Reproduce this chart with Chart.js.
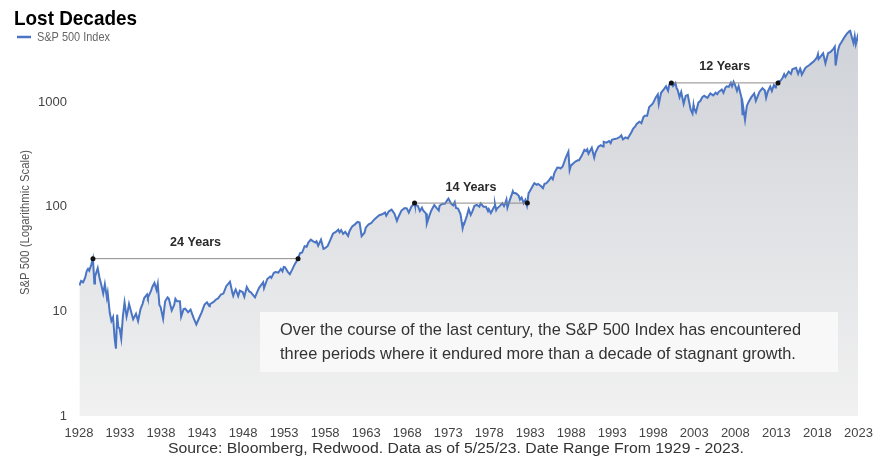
<!DOCTYPE html>
<html>
<head>
<meta charset="utf-8">
<script src="https://cdn.jsdelivr.net/npm/chart.js@4"></script>
<style>
  body { margin: 0; background: #fff; }
  #wrap { width: 875px; height: 458px; position: relative; }
</style>
</head>
<body>
<div id="wrap"><canvas id="myChart"></canvas></div>
<script>
// S&P 500 price level (decimal year -> index level)
const dates = [
  1928.05, 1928.25, 1928.5, 1928.75, 1928.95,
  1929.1, 1929.25, 1929.5, 1929.7, 1929.87, 1929.95,
  1930.28, 1930.5, 1930.75, 1930.95,
  1931.15, 1931.4, 1931.5, 1931.75, 1931.95,
  1932.15, 1932.35, 1932.5, 1932.65, 1932.8, 1932.95,
  1933.15, 1933.35, 1933.55, 1933.8, 1933.95,
  1934.1, 1934.4, 1934.6, 1934.95,
  1935.2, 1935.5, 1935.75, 1935.95,
  1936.3, 1936.4, 1936.75, 1936.95,
  1937.2, 1937.45, 1937.6, 1937.8, 1937.95,
  1938.25, 1938.5, 1938.8, 1938.95,
  1939.3, 1939.6, 1939.75, 1939.95,
  1940.3, 1940.45, 1940.75, 1940.95,
  1941.3, 1941.6, 1941.95,
  1942.3, 1942.6, 1942.95,
  1943.3, 1943.6, 1943.9, 1943.95,
  1944.4, 1944.7, 1944.95,
  1945.3, 1945.6, 1945.95,
  1946.4, 1946.7, 1946.8, 1946.95,
  1947.1, 1947.4, 1947.6, 1947.95,
  1948.15, 1948.45, 1948.75, 1948.95,
  1949.45, 1949.7, 1949.95,
  1950.45, 1950.55, 1950.95,
  1951.3, 1951.45, 1951.75, 1951.95,
  1952.3, 1952.6, 1952.8, 1952.95,
  1953.1, 1953.45, 1953.7, 1953.95,
  1954.3, 1954.55, 1954.7, 1954.95,
  1955.2, 1955.5, 1955.75, 1955.95,
  1956.25, 1956.5, 1956.8, 1956.95,
  1957.15, 1957.5, 1957.8, 1957.95,
  1958.3, 1958.6, 1958.95,
  1959.3, 1959.6, 1959.75, 1959.95,
  1960.2, 1960.45, 1960.8, 1960.95,
  1961.3, 1961.6, 1961.95,
  1962.2, 1962.45, 1962.8, 1962.95,
  1963.3, 1963.6, 1963.95,
  1964.3, 1964.6, 1964.95,
  1965.3, 1965.45, 1965.75, 1965.95,
  1966.1, 1966.45, 1966.75, 1966.95,
  1967.3, 1967.7, 1967.95,
  1968.2, 1968.5, 1968.9, 1968.95,
  1969.3, 1969.55, 1969.8, 1969.95,
  1970.3, 1970.4, 1970.75, 1970.95,
  1971.3, 1971.6, 1971.85, 1971.95,
  1972.3, 1972.6, 1972.95,
  1973.03, 1973.35, 1973.6, 1973.8, 1973.95,
  1974.2, 1974.5, 1974.76, 1974.9, 1974.95,
  1975.3, 1975.5, 1975.75, 1975.95,
  1976.2, 1976.5, 1976.8, 1976.95,
  1977.3, 1977.6, 1977.85, 1977.95,
  1978.2, 1978.6, 1978.7, 1978.85, 1978.95,
  1979.3, 1979.6, 1979.8, 1979.95,
  1980.1, 1980.22, 1980.5, 1980.88, 1980.95,
  1981.3, 1981.6, 1981.75, 1981.95,
  1982.2, 1982.4, 1982.6, 1982.8, 1982.95,
  1983.3, 1983.5, 1983.8, 1983.95,
  1984.3, 1984.55, 1984.75, 1984.95,
  1985.3, 1985.55, 1985.75, 1985.95,
  1986.3, 1986.55, 1986.7, 1986.95,
  1987.3, 1987.65, 1987.8, 1987.95,
  1988.3, 1988.55, 1988.8, 1988.95,
  1989.3, 1989.6, 1989.8, 1989.95,
  1990.1, 1990.5, 1990.8, 1990.95,
  1991.3, 1991.6, 1991.9, 1991.95,
  1992.3, 1992.6, 1992.8, 1992.95,
  1993.3, 1993.6, 1993.95,
  1994.1, 1994.3, 1994.6, 1994.9, 1994.95,
  1995.3, 1995.55, 1995.8, 1995.95,
  1996.3, 1996.55, 1996.8, 1996.95,
  1997.25, 1997.5, 1997.8, 1997.95,
  1998.3, 1998.55, 1998.67, 1998.95,
  1999.3, 1999.55, 1999.8, 1999.95,
  2000.2, 2000.4, 2000.7, 2000.85, 2000.95,
  2001.2, 2001.4, 2001.7, 2001.95,
  2002.2, 2002.55, 2002.78, 2002.9, 2002.95,
  2003.2, 2003.5, 2003.75, 2003.95,
  2004.2, 2004.6, 2004.95,
  2005.3, 2005.6, 2005.8, 2005.95,
  2006.35, 2006.55, 2006.8, 2006.95,
  2007.2, 2007.45, 2007.6, 2007.78, 2007.95,
  2008.2, 2008.4, 2008.6, 2008.75, 2008.88, 2008.95,
  2009.18, 2009.4, 2009.6, 2009.95,
  2010.3, 2010.5, 2010.8, 2010.95,
  2011.3, 2011.6, 2011.75, 2011.95,
  2012.25, 2012.45, 2012.7, 2012.9, 2012.95,
  2013.2, 2013.5, 2013.75, 2013.95,
  2014.1, 2014.5, 2014.78, 2014.95,
  2015.4, 2015.65, 2015.9, 2015.95,
  2016.1, 2016.5, 2016.7, 2016.95,
  2017.3, 2017.6, 2017.95,
  2018.07, 2018.15, 2018.7, 2018.98,
  2019.3, 2019.6, 2019.95,
  2020.12, 2020.22, 2020.5, 2020.7, 2020.95,
  2021.3, 2021.6, 2021.9,
  2022.0, 2022.2, 2022.4, 2022.55, 2022.68, 2022.78,
  2022.86, 2022.9, 2022.95
];
const values = [
  17.7, 19.5, 19.0, 21, 24.4,
  25.5, 24.5, 28, 31.9, 18.5, 21.5,
  25.9, 21, 17.5, 14.8,
  18.2, 13.5, 15, 9.7, 8.1,
  8.8, 5.5, 4.4, 9.3, 7.0, 6.9,
  5.5, 9, 12.2, 8.9, 10.1,
  11.8, 9.6, 8.4, 9.5,
  8.1, 10.5, 11.8, 13.4,
  14.5, 13.5, 15.5, 17.2,
  18.7, 16, 18.3, 11.5, 11,
  8.5, 12.5, 13.6, 13.2,
  10.2, 11.5, 13.2, 12.5,
  12.5, 8.9, 10.5, 10.6,
  9.8, 10.4, 8.7,
  7.5, 8.5, 9.8,
  11.6, 12.2, 11.2, 11.7,
  12.3, 13.0, 13.3,
  14.5, 14.8, 17.4,
  19.2, 15.0, 14.1, 15.3,
  16.2, 14, 15.8, 15.3,
  13.8, 17.1, 15.5, 15.2,
  13.6, 15.2, 16.8,
  19.0, 16.7, 20.4,
  21.5, 20.9, 23.4, 23.8,
  23.5, 25.4, 24.1, 26.6,
  26.5, 23.9, 22.7, 24.8,
  28.3, 30.5, 32.2, 36,
  36.5, 42, 41.5, 45.5,
  48.5, 47, 45.5, 46.7,
  42.4, 48.5, 39.5, 40,
  42, 47.5, 55.2,
  57.5, 60.5, 57, 59.9,
  55, 57.5, 52.5, 58.1,
  65, 67.5, 71.5,
  70.5, 52.3, 56.5, 63.1,
  68, 69.5, 75,
  79.5, 83, 84.8,
  88, 82, 90, 92.4,
  94, 86, 73.2, 80.3,
  92, 97, 96.5,
  88, 100, 108.4, 103.9,
  102, 91, 98, 92,
  86, 69.3, 84, 92.2,
  104, 97, 92, 102.1,
  107, 107, 118,
  120, 107, 103, 111, 97.5,
  96, 85, 62.3, 69, 68.6,
  83, 95, 83.5, 90.2,
  102, 104, 100, 107.5,
  100, 100, 91, 95.1,
  87, 100, 106, 93, 96.1,
  102, 108, 101.5, 107.9,
  117, 98.2, 115, 140.5, 135.8,
  134, 127, 117, 122.6,
  108, 116, 102.4, 135, 140.6,
  158, 168, 162, 164.9,
  158, 150.5, 166, 167.2,
  180, 192, 183, 211.3,
  237, 236, 232, 242.2,
  290, 336, 224, 247.1,
  262, 272, 278, 277.7,
  310, 350, 340, 353.4,
  322, 367, 295, 330.2,
  375, 387, 376, 417.1,
  410, 425, 405, 435.7,
  445, 450, 466.5,
  481, 440, 460, 450, 459.3,
  510, 560, 585, 615.9,
  650, 630, 720, 740.7,
  740, 900, 945, 970.4,
  1110, 1186, 960, 1229,
  1330, 1418, 1285, 1469,
  1527, 1420, 1520, 1350, 1320,
  1117, 1250, 965, 1148,
  1170, 850, 776, 935, 880,
  800, 990, 1030, 1112,
  1150, 1100, 1212,
  1160, 1230, 1190, 1248,
  1320, 1230, 1380, 1418,
  1400, 1530, 1420, 1565, 1468,
  1280, 1420, 1230, 1100, 750, 903,
  677, 920, 1000, 1115,
  1210, 1030, 1180, 1258,
  1360, 1290, 1100, 1258,
  1410, 1280, 1460, 1380, 1426,
  1565, 1600, 1700, 1848,
  1740, 1960, 1862, 2059,
  2130, 1867, 2090, 2044,
  1829, 2100, 2180, 2239,
  2360, 2470, 2674,
  2870, 2580, 2930, 2351,
  2940, 3020, 3231,
  3386, 2237, 3100, 3500, 3756,
  4180, 4520, 4766,
  4796, 4170, 3667, 4280, 3577, 3840,
  4100, 3855, 4150
];

const xTicks = [1928, 1933, 1938, 1943, 1948, 1953, 1958, 1963, 1968, 1973,
  1978, 1983, 1988, 1993, 1998, 2003, 2008, 2013, 2018, 2023];
const yTicks = [1, 10, 100, 1000];

// lost decades: peak date, date the peak level was regained, peak level
const periodLabels = ['24 Years', '14 Years', '12 Years'];
const periodStart = [1929.7, 1968.9, 2000.2];
const periodEnd = [1954.7, 1982.65, 2013.2];
const periodLevel = [31.9, 108.4, 1527];

const FONT = '"Liberation Sans", Arial, sans-serif';

// draws text squeezed to a given width, to mimic the condensed face of the original
function squeezed(ctx, text, x, y, font, width, align) {
  ctx.save();
  ctx.font = font;
  const w = ctx.measureText(text).width;
  const k = width ? width / w : 1;
  ctx.translate(x, y);
  ctx.scale(k, 1);
  ctx.textAlign = align || 'left';
  ctx.fillText(text, 0, 0);
  ctx.restore();
  return k;
}

const decorPlugin = {
  id: 'decor',
  afterDatasetsDraw(chart) {
    const { ctx, scales } = chart;
    const x = scales.x, y = scales.y;
    ctx.save();

    // period annotations
    periodLabels.forEach((label, i) => {
      const x1 = x.getPixelForValue(periodStart[i]);
      const x2 = x.getPixelForValue(periodEnd[i]);
      const py = y.getPixelForValue(periodLevel[i]);
      ctx.strokeStyle = '#8a8a8a';
      ctx.lineWidth = 1;
      ctx.beginPath();
      ctx.moveTo(x1, py);
      ctx.lineTo(x2, py);
      ctx.stroke();
      ctx.fillStyle = '#111';
      [x1, x2].forEach((px) => {
        ctx.beginPath();
        ctx.arc(px, py, 2.5, 0, Math.PI * 2);
        ctx.fill();
      });
      ctx.fillStyle = '#2a2a2a';
      ctx.textBaseline = 'middle';
      squeezed(ctx, label, (x1 + x2) / 2, py - 16, 'bold 13px ' + FONT, 51, 'center');
    });

    // note box
    ctx.fillStyle = '#f8f8f8';
    ctx.fillRect(260, 312, 578, 60);
    ctx.fillStyle = '#333';
    ctx.textBaseline = 'alphabetic';
    const line1 = 'Over the course of the last century, the S&P 500 Index has encountered';
    const line2 = 'three periods where it endured more than a decade of stagnant growth.';
    const k = squeezed(ctx, line1, 280, 335, '17px ' + FONT, 521);
    ctx.save();
    ctx.font = '17px ' + FONT;
    squeezed(ctx, line2, 280, 359, '17px ' + FONT, ctx.measureText(line2).width * k);
    ctx.restore();

    // title + legend
    ctx.fillStyle = '#000';
    squeezed(ctx, 'Lost Decades', 14, 25, 'bold 21px ' + FONT, 123);
    ctx.strokeStyle = '#4a74c4';
    ctx.lineWidth = 2.5;
    ctx.beginPath();
    ctx.moveTo(17, 37);
    ctx.lineTo(31, 37);
    ctx.stroke();
    ctx.fillStyle = '#666';
    ctx.textBaseline = 'middle';
    squeezed(ctx, 'S&P 500 Index', 37, 37, '13px ' + FONT, 73);

    // y axis title
    ctx.save();
    ctx.translate(25, (chart.chartArea.top + chart.chartArea.bottom) / 2);
    ctx.rotate(-Math.PI / 2);
    ctx.fillStyle = '#555';
    squeezed(ctx, 'S&P 500 (Logarithmic Scale)', 0, 0, '13px ' + FONT, 145, 'center');
    ctx.restore();

    // source
    ctx.fillStyle = '#333';
    squeezed(ctx, 'Source: Bloomberg, Redwood. Data as of 5/25/23. Date Range From 1929 - 2023.',
      456, 449, '14px ' + FONT, 576, 'center');

    ctx.restore();
  },
};

const canvas = document.getElementById('myChart');

new Chart(canvas, {
  type: 'line',
  data: {
    labels: dates,
    datasets: [
      {
        label: 'S&P 500 Index',
        data: dates.map((d, i) => ({ x: d, y: values[i] })),
        borderColor: '#4a74c4',
        borderWidth: 2,
        pointRadius: 0,
        tension: 0,
        fill: 'start',
        backgroundColor: (context) => {
          const { chartArea, ctx } = context.chart;
          if (!chartArea) return '#e6e6e6';
          const g = ctx.createLinearGradient(0, chartArea.top, 0, chartArea.bottom);
          g.addColorStop(0, '#cfd2d8');
          g.addColorStop(1, '#f1f1f1');
          return g;
        },
      },
    ],
  },
  options: {
    responsive: true,
    maintainAspectRatio: false,
    animation: false,
    layout: {
      autoPadding: false,
      padding: { top: 29, right: 17, left: 0, bottom: 0 },
    },
    scales: {
      x: {
        type: 'linear',
        min: 1928,
        max: 2022.95,
        grid: { display: false, drawTicks: false },
        border: { display: false },
        afterBuildTicks: (scale) => {
          scale.ticks = xTicks.map((v) => ({ value: v }));
        },
        afterFit: (scale) => {
          scale.height = 42;
          scale.paddingLeft = 0;
          scale.paddingRight = 0;
        },
        ticks: {
          padding: 10,
          maxRotation: 0,
          autoSkip: false,
          color: '#444',
          font: { family: FONT, size: 13 },
          callback: (v) => String(v),
        },
      },
      y: {
        type: 'logarithmic',
        min: 1,
        max: 5000,
        grid: { display: false, drawTicks: false },
        border: { display: false },
        afterBuildTicks: (scale) => {
          scale.ticks = yTicks.map((v) => ({ value: v }));
        },
        afterFit: (scale) => {
          scale.width = 79;
          scale.paddingTop = 0;
          scale.paddingBottom = 0;
        },
        ticks: {
          padding: 12,
          color: '#444',
          font: { family: FONT, size: 13 },
          callback: (v) => String(v),
        },
      },
    },
    plugins: {
      legend: { display: false },
      tooltip: { enabled: false },
      decor: {},
    },
  },
  plugins: [decorPlugin],
});
</script>
</body>
</html>
